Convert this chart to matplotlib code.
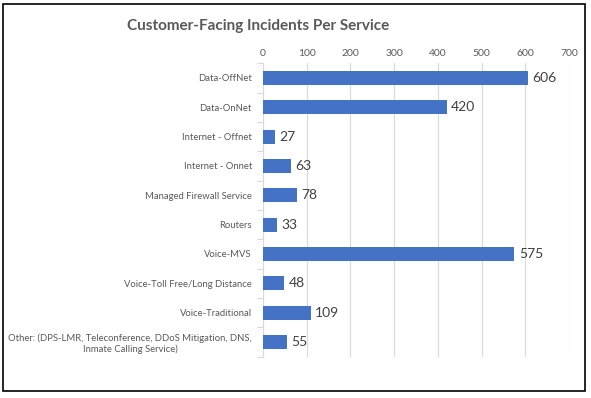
import matplotlib
matplotlib.use("Agg")
import matplotlib.pyplot as plt
from matplotlib.patches import Rectangle
import numpy as np

categories = ["Data-OffNet", "Data-OnNet", "Internet - Offnet", "Internet - Onnet",
              "Managed Firewall Service", "Routers", "Voice-MVS",
              "Voice-Toll Free/Long Distance", "Voice-Traditional",
              "Other: (DPS-LMR, Teleconference, DDoS Mitigation, DNS,\nInmate Calling Service)"]
values = [606, 420, 27, 63, 78, 33, 575, 48, 109, 55]
xticks = [0, 100, 200, 300, 400, 500, 600, 700]

plt.rcParams['font.family'] = ['Lato', 'DejaVu Sans']

fig = plt.figure(figsize=(5.91, 3.98), dpi=100)
ax = fig.add_axes([0.445, 0.104, 0.518, 0.737])

y = np.arange(len(categories))
ax.barh(y, values, height=0.47, color="#4472C4", zorder=3)
for yi, v in zip(y, values):
    ax.text(v + 10, yi, str(v), va="center", ha="left", fontsize=10, color="#404040")

ax.set_xlim(0, 700)
ax.set_ylim(len(categories) - 0.5, -0.5)
ax.set_xticks(xticks)
ax.xaxis.tick_top()
ax.tick_params(axis="x", length=0, labelsize=7.5, labelcolor="#595959", pad=4)
ax.grid(axis="x", color="#D9D9D9", linewidth=0.8, zorder=0)

ax.set_yticks(y)
ax.set_yticklabels(categories, fontsize=6.8, color="#595959")
for lbl in ax.get_yticklabels():
    lbl.set_multialignment("center")
ax.tick_params(axis="y", length=0, pad=8)
ax.set_yticks(np.arange(-0.5, len(categories), 1), minor=True)
ax.tick_params(axis="y", which="minor", length=4, color="#D9D9D9", width=0.8)

for s in ["top", "right", "bottom"]:
    ax.spines[s].set_visible(False)
ax.spines["left"].set_color("#D9D9D9")
ax.spines["left"].set_linewidth(0.8)

fig.text(258 / 591, 1 - 26 / 398, "Customer-Facing Incidents Per Service", ha="center", va="center",
         fontsize=11, fontweight="bold", color="#595959")

fig.patches.append(Rectangle((3 / 591, 1 - 391 / 398), 582 / 591, 387 / 398,
                             transform=fig.transFigure, fill=False,
                             edgecolor="black", linewidth=1.2))

fig.savefig("out.png", dpi=100)
